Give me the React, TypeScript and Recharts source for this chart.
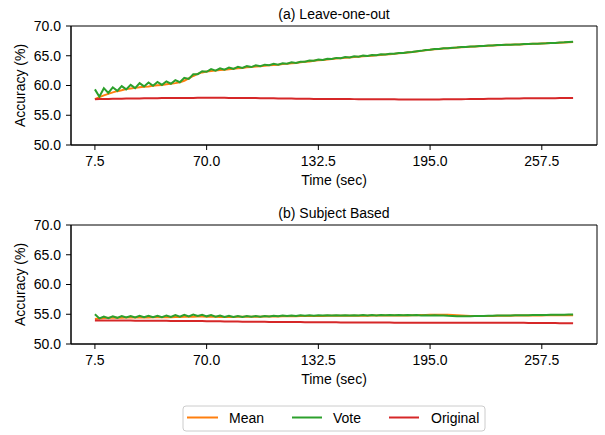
import React from 'react';
import { LineChart, Line, XAxis, YAxis, ReferenceArea } from 'recharts';

const times: number[] = [
  7.5, 10, 12.5, 15, 17.5, 20, 22.5, 25, 27.5, 30,
  32.5, 35, 37.5, 40, 42.5, 45, 47.5, 50, 52.5, 55,
  57.5, 60, 62.5, 65, 67.5, 70, 72.5, 75, 77.5, 80,
  82.5, 85, 87.5, 90, 92.5, 95, 97.5, 100, 102.5, 105,
  107.5, 110, 112.5, 115, 117.5, 120, 122.5, 125, 127.5, 130,
  132.5, 135, 137.5, 140, 142.5, 145, 147.5, 150, 152.5, 155,
  157.5, 160, 162.5, 165, 167.5, 170, 172.5, 175, 177.5, 180,
  182.5, 185, 187.5, 190, 192.5, 195, 197.5, 200, 202.5, 205,
  207.5, 210, 212.5, 215, 217.5, 220, 222.5, 225, 227.5, 230,
  232.5, 235, 237.5, 240, 242.5, 245, 247.5, 250, 252.5, 255,
  257.5, 260, 262.5, 265, 267.5, 270, 272.5, 275,
];

const xTicks: number[] = [7.5, 70.0, 132.5, 195.0, 257.5];
const yTicks: number[] = [50, 55, 60, 65, 70];

const looMean: number[] = [
  57.7, 58.05, 58.35, 58.6, 58.85, 59.05, 59.2, 59.4, 59.5, 59.6,
  59.7, 59.8, 59.85, 59.95, 60.05, 60.1, 60.2, 60.3, 60.4, 60.55,
  60.8, 61.2, 61.6, 61.95, 62.2, 62.35, 62.45, 62.5, 62.6, 62.65,
  62.75, 62.8, 62.9, 62.95, 63.05, 63.1, 63.2, 63.25, 63.3, 63.4,
  63.45, 63.5, 63.6, 63.65, 63.75, 63.8, 63.9, 64.0, 64.05, 64.15,
  64.25, 64.3, 64.38, 64.45, 64.52, 64.6, 64.66, 64.72, 64.78, 64.84,
  64.9, 64.96, 65.02, 65.08, 65.14, 65.2, 65.26, 65.32, 65.4, 65.48,
  65.56, 65.64, 65.72, 65.82, 65.92, 66.0, 66.08, 66.14, 66.2, 66.26,
  66.32, 66.38, 66.43, 66.48, 66.52, 66.56, 66.6, 66.64, 66.68, 66.72,
  66.76, 66.8, 66.83, 66.86, 66.88, 66.9, 66.93, 66.96, 67.0, 67.03,
  67.06, 67.1, 67.13, 67.16, 67.2, 67.23, 67.26, 67.3,
];

const looVote: number[] = [
  59.35, 58.1, 59.55, 58.75, 59.7, 59.1, 59.9, 59.35, 60.1, 59.55,
  60.4, 59.85, 60.5, 59.95, 60.6, 60.1, 60.7, 60.3, 60.9, 60.55,
  61.3, 61.1, 61.9, 61.9, 62.4, 62.3, 62.75, 62.5, 62.9, 62.65,
  63.0, 62.8, 63.15, 62.95, 63.25, 63.1, 63.4, 63.25, 63.5, 63.4,
  63.65, 63.5, 63.75, 63.65, 63.9, 63.8, 64.0, 64.0, 64.2, 64.15,
  64.38, 64.3, 64.5, 64.45, 64.64, 64.6, 64.78, 64.72, 64.9, 64.84,
  65.02, 64.96, 65.14, 65.08, 65.24, 65.2, 65.34, 65.32, 65.46, 65.48,
  65.6, 65.64, 65.76, 65.82, 65.95, 66.0, 66.12, 66.14, 66.24, 66.26,
  66.36, 66.38, 66.46, 66.48, 66.55, 66.56, 66.63, 66.64, 66.71, 66.72,
  66.79, 66.8, 66.86, 66.86, 66.91, 66.9, 66.96, 66.96, 67.01, 67.03,
  67.07, 67.1, 67.15, 67.16, 67.22, 67.25, 67.3, 67.35,
];

const looOriginal: number[] = [
  57.7, 57.72, 57.74, 57.75, 57.77, 57.78, 57.79, 57.8, 57.81, 57.82,
  57.83, 57.84, 57.85, 57.86, 57.87, 57.88, 57.88, 57.89, 57.9, 57.9,
  57.91, 57.92, 57.92, 57.93, 57.93, 57.94, 57.94, 57.94, 57.93, 57.93,
  57.92, 57.92, 57.91, 57.9, 57.9, 57.89, 57.88, 57.87, 57.86, 57.85,
  57.84, 57.83, 57.82, 57.81, 57.8, 57.79, 57.78, 57.77, 57.76, 57.75,
  57.74, 57.74, 57.73, 57.73, 57.73, 57.72, 57.72, 57.72, 57.71, 57.71,
  57.7, 57.7, 57.69, 57.69, 57.68, 57.68, 57.67, 57.67, 57.66, 57.66,
  57.65, 57.65, 57.65, 57.65, 57.65, 57.65, 57.66, 57.66, 57.67, 57.67,
  57.68, 57.69, 57.7, 57.71, 57.72, 57.73, 57.74, 57.75, 57.76, 57.77,
  57.78, 57.79, 57.8, 57.81, 57.82, 57.83, 57.84, 57.84, 57.85, 57.85,
  57.86, 57.86, 57.87, 57.87, 57.88, 57.88, 57.89, 57.9,
];

const subjMean: number[] = [
  54.2, 54.3, 54.35, 54.4, 54.4, 54.42, 54.43, 54.44, 54.45, 54.45,
  54.46, 54.47, 54.47, 54.48, 54.48, 54.49, 54.5, 54.5, 54.52, 54.54,
  54.56, 54.58, 54.6, 54.62, 54.62, 54.6, 54.58, 54.56, 54.55, 54.55,
  54.55, 54.55, 54.56, 54.57, 54.58, 54.59, 54.6, 54.6, 54.61, 54.62,
  54.63, 54.64, 54.65, 54.66, 54.67, 54.68, 54.69, 54.7, 54.7, 54.71,
  54.72, 54.72, 54.73, 54.73, 54.74, 54.74, 54.75, 54.75, 54.75, 54.76,
  54.76, 54.76, 54.77, 54.77, 54.78, 54.78, 54.78, 54.79, 54.79, 54.8,
  54.8, 54.82, 54.84, 54.86, 54.88, 54.9, 54.92, 54.93, 54.92, 54.9,
  54.86, 54.82, 54.78, 54.75, 54.72, 54.7, 54.7, 54.7, 54.71, 54.72,
  54.73, 54.74, 54.75, 54.76, 54.77, 54.78, 54.78, 54.79, 54.8, 54.8,
  54.81, 54.82, 54.82, 54.83, 54.83, 54.84, 54.84, 54.85,
];

const subjVote: number[] = [
  55.0, 54.3, 54.6, 54.35, 54.65, 54.4, 54.7, 54.45, 54.7, 54.45,
  54.75, 54.5, 54.75, 54.5, 54.75, 54.5, 54.8, 54.55, 54.85, 54.6,
  54.9, 54.65, 54.95, 54.7, 54.9, 54.65, 54.85, 54.6, 54.8, 54.55,
  54.75, 54.55, 54.7, 54.55, 54.7, 54.6, 54.7, 54.6, 54.72, 54.62,
  54.75, 54.65, 54.78, 54.7, 54.8, 54.72, 54.82, 54.74, 54.82, 54.76,
  54.84, 54.78, 54.84, 54.78, 54.84, 54.78, 54.85, 54.8, 54.85, 54.8,
  54.86, 54.8, 54.86, 54.8, 54.86, 54.82, 54.87, 54.82, 54.87, 54.82,
  54.86, 54.82, 54.86, 54.8, 54.85, 54.8, 54.82, 54.78, 54.8, 54.75,
  54.72, 54.68, 54.66, 54.65, 54.68, 54.7, 54.72, 54.72, 54.74, 54.76,
  54.78, 54.78, 54.8, 54.8, 54.82, 54.82, 54.84, 54.84, 54.86, 54.86,
  54.88, 54.88, 54.9, 54.9, 54.92, 54.92, 54.94, 54.95,
];

const subjOriginal: number[] = [
  53.95, 53.95, 53.95, 53.95, 53.94, 53.94, 53.94, 53.93, 53.93, 53.92,
  53.92, 53.91, 53.91, 53.9, 53.9, 53.89, 53.89, 53.88, 53.88, 53.87,
  53.87, 53.86, 53.86, 53.85, 53.85, 53.84, 53.83, 53.82, 53.81, 53.8,
  53.79, 53.78, 53.77, 53.76, 53.75, 53.74, 53.73, 53.72, 53.72, 53.71,
  53.71, 53.7, 53.7, 53.69, 53.69, 53.68, 53.68, 53.67, 53.67, 53.66,
  53.66, 53.65, 53.65, 53.64, 53.64, 53.63, 53.63, 53.62, 53.62, 53.62,
  53.61, 53.61, 53.61, 53.6, 53.6, 53.6, 53.6, 53.59, 53.59, 53.59,
  53.59, 53.58, 53.58, 53.58, 53.58, 53.58, 53.58, 53.58, 53.58, 53.58,
  53.58, 53.58, 53.58, 53.58, 53.58, 53.58, 53.58, 53.58, 53.58, 53.58,
  53.58, 53.58, 53.57, 53.57, 53.57, 53.56, 53.56, 53.55, 53.55, 53.54,
  53.54, 53.53, 53.52, 53.51, 53.5, 53.49, 53.48, 53.47,
];

const seriesNames = ['Mean', 'Vote', 'Original'];
const colors = ['#ff7f0e', '#2ca02c', '#d62728'];
const FONT = '"Liberation Sans", Arial, sans-serif';
const X_DOMAIN: [number, number] = [-5.875, 288.375];
const Y_DOMAIN: [number, number] = [50, 70];

function build(mean: number[], vote: number[], orig: number[]) {
  return times.map((t, i) => ({ t, Mean: mean[i], Vote: vote[i], Original: orig[i] }));
}

const topData = build(looMean, looVote, looOriginal);
const bottomData = build(subjMean, subjVote, subjOriginal);

const tickStyle = { fontSize: 14, fill: '#000', fontFamily: FONT };

function Panel({ data }: { data: any[] }) {
  return (
    <LineChart width={605} height={200} data={data} margin={{ top: 26, right: 8, left: 0, bottom: 25 }}>
      <XAxis
        dataKey="t"
        type="number"
        domain={X_DOMAIN}
        ticks={xTicks}
        allowDataOverflow
        tickFormatter={(v: number) => v.toFixed(1)}
        tick={tickStyle}
        tickSize={5}
        tickMargin={6}
        height={30}
        axisLine={{ stroke: '#000', strokeWidth: 1 }}
        tickLine={{ stroke: '#000', strokeWidth: 1 }}
        interval={0}
      />
      <YAxis
        type="number"
        domain={Y_DOMAIN}
        ticks={yTicks}
        allowDataOverflow
        tickFormatter={(v: number) => v.toFixed(1)}
        tick={tickStyle}
        tickSize={5}
        tickMargin={5}
        width={71}
        axisLine={{ stroke: '#000', strokeWidth: 1 }}
        tickLine={{ stroke: '#000', strokeWidth: 1 }}
        interval={0}
      />
      <ReferenceArea
        x1={X_DOMAIN[0]}
        x2={X_DOMAIN[1]}
        y1={Y_DOMAIN[0]}
        y2={Y_DOMAIN[1]}
        fill="none"
        fillOpacity={0}
        stroke="#000"
        strokeWidth={1}
        ifOverflow="visible"
      />
      {seriesNames.map((name, i) => (
        <Line
          key={name}
          type="linear"
          dataKey={name}
          stroke={colors[i]}
          strokeWidth={2}
          dot={false}
          activeDot={false}
          isAnimationActive={false}
        />
      ))}
    </LineChart>
  );
}

export default function App() {
  const plotCx = 334;
  const legendItems = [
    { name: seriesNames[0], color: colors[0], x1: 187, x2: 218, tx: 229 },
    { name: seriesNames[1], color: colors[1], x1: 292, x2: 322, tx: 333 },
    { name: seriesNames[2], color: colors[2], x1: 389, x2: 419, tx: 431 },
  ];
  return (
    <div style={{ position: 'absolute', left: 0, top: 0, width: 605, height: 435, background: '#fff', fontFamily: FONT }}>
      <div style={{ position: 'absolute', left: 0, top: 0 }}>
        <Panel data={topData} />
      </div>
      <div style={{ position: 'absolute', left: 0, top: 199 }}>
        <Panel data={bottomData} />
      </div>
      <svg width={605} height={435} style={{ position: 'absolute', left: 0, top: 0, pointerEvents: 'none' }}>
        <g fontFamily={FONT} fontSize={14} fill="#000">
          <text x={plotCx} y={14} textAnchor="middle" dominantBaseline="central">(a) Leave-one-out</text>
          <text x={plotCx} y={213} textAnchor="middle" dominantBaseline="central">(b) Subject Based</text>
          <text x={plotCx} y={180} textAnchor="middle" dominantBaseline="central">Time (sec)</text>
          <text x={plotCx} y={379} textAnchor="middle" dominantBaseline="central">Time (sec)</text>
          <text x={20} y={85.5} textAnchor="middle" dominantBaseline="central" transform="rotate(-90 20 85.5)">Accuracy (%)</text>
          <text x={20} y={284.5} textAnchor="middle" dominantBaseline="central" transform="rotate(-90 20 284.5)">Accuracy (%)</text>
        </g>
        <rect x={183} y={406} width={302} height={25} rx={3} ry={3} fill="#fff" stroke="#cccccc" strokeWidth={1} />
        {legendItems.map((it) => (
          <g key={it.name}>
            <line x1={it.x1} x2={it.x2} y1={417.5} y2={417.5} stroke={it.color} strokeWidth={2} />
            <text x={it.tx} y={417.5} fontFamily={FONT} fontSize={14} fill="#000" dominantBaseline="central">{it.name}</text>
          </g>
        ))}
      </svg>
    </div>
  );
}
